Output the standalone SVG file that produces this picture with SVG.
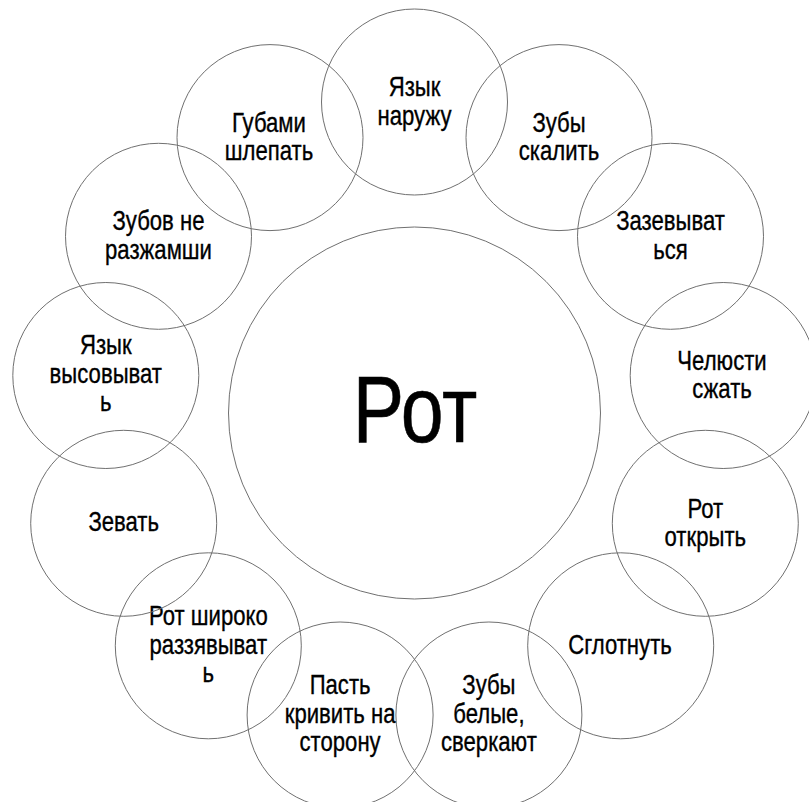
<svg xmlns="http://www.w3.org/2000/svg" width="809" height="802" viewBox="0 0 809 802">
<style>
.c{fill:none;stroke:#707070;stroke-width:1}
.t{font-family:"Liberation Sans Narrow","Liberation Sans",Arial,sans-serif;font-size:27px;fill:#000;stroke:#000;stroke-width:0.35;text-anchor:middle}
.m{font-family:"Liberation Sans Narrow","Liberation Sans",Arial,sans-serif;font-size:94px;fill:#000;stroke:#000;stroke-width:0.6;text-anchor:middle}
</style>
<rect width="809" height="802" fill="#fff"/>
<g id="center"><circle class="c" cx="414.5" cy="413" r="186"/><text class="m" transform="translate(415 0) scale(0.82 1)" x="0" y="442">Рот</text></g>
<g id="n0"><circle class="c" cx="414.5" cy="102" r="93"/><text class="t" transform="translate(414.5 0) scale(0.82 1)"><tspan x="0" y="96.5">Язык</tspan><tspan x="0" y="125">наружу</tspan></text></g>
<g id="n1"><circle class="c" cx="559" cy="137.6" r="93"/><text class="t" transform="translate(559 0) scale(0.82 1)"><tspan x="0" y="132">Зубы</tspan><tspan x="0" y="160.5">скалить</tspan></text></g>
<g id="n2"><circle class="c" cx="670.5" cy="236.3" r="93"/><text class="t" transform="translate(670.5 0) scale(0.82 1)"><tspan x="0" y="230.5">Зазевыват</tspan><tspan x="0" y="259">ься</tspan></text></g>
<g id="n3"><circle class="c" cx="723.2" cy="375.5" r="93"/><text class="t" transform="translate(722 0) scale(0.82 1)"><tspan x="0" y="370">Челюсти</tspan><tspan x="0" y="398.5">сжать</tspan></text></g>
<g id="n4"><circle class="c" cx="705.3" cy="523.3" r="93"/><text class="t" transform="translate(705.3 0) scale(0.82 1)"><tspan x="0" y="518">Рот</tspan><tspan x="0" y="546">открыть</tspan></text></g>
<g id="n5"><circle class="c" cx="620.7" cy="645.8" r="93"/><text class="t" transform="translate(620 0) scale(0.82 1)" x="0" y="654">Сглотнуть</text></g>
<g id="n6"><circle class="c" cx="488.9" cy="715" r="93"/><text class="t" transform="translate(488.9 0) scale(0.82 1)"><tspan x="0" y="694.5">Зубы</tspan><tspan x="0" y="723">белые,</tspan><tspan x="0" y="751">сверкают</tspan></text></g>
<g id="n7"><circle class="c" cx="340.1" cy="715" r="93"/><text class="t" transform="translate(340.1 0) scale(0.82 1)"><tspan x="0" y="694.5">Пасть</tspan><tspan x="0" y="723">кривить на</tspan><tspan x="0" y="751">сторону</tspan></text></g>
<g id="n8"><circle class="c" cx="208.3" cy="645.8" r="93"/><text class="t" transform="translate(208.3 0) scale(0.82 1)"><tspan x="0" y="625.5">Рот широко</tspan><tspan x="0" y="654">раззявыват</tspan><tspan x="0" y="682">ь</tspan></text></g>
<g id="n9"><circle class="c" cx="123.7" cy="523.3" r="93"/><text class="t" transform="translate(123.7 0) scale(0.82 1)" x="0" y="531.5">Зевать</text></g>
<g id="n10"><circle class="c" cx="105.8" cy="375.5" r="93"/><text class="t" transform="translate(105.8 0) scale(0.82 1)"><tspan x="0" y="354.5">Язык</tspan><tspan x="0" y="383">высовыват</tspan><tspan x="0" y="411.5">ь</tspan></text></g>
<g id="n11"><circle class="c" cx="158.5" cy="236.3" r="93"/><text class="t" transform="translate(158.5 0) scale(0.82 1)"><tspan x="0" y="230.5">Зубов не</tspan><tspan x="0" y="259">разжамши</tspan></text></g>
<g id="n12"><circle class="c" cx="270" cy="137.6" r="93"/><text class="t" transform="translate(269 0) scale(0.82 1)"><tspan x="0" y="132">Губами</tspan><tspan x="0" y="160.5">шлепать</tspan></text></g>
<g id="connectors"></g>
</svg>
